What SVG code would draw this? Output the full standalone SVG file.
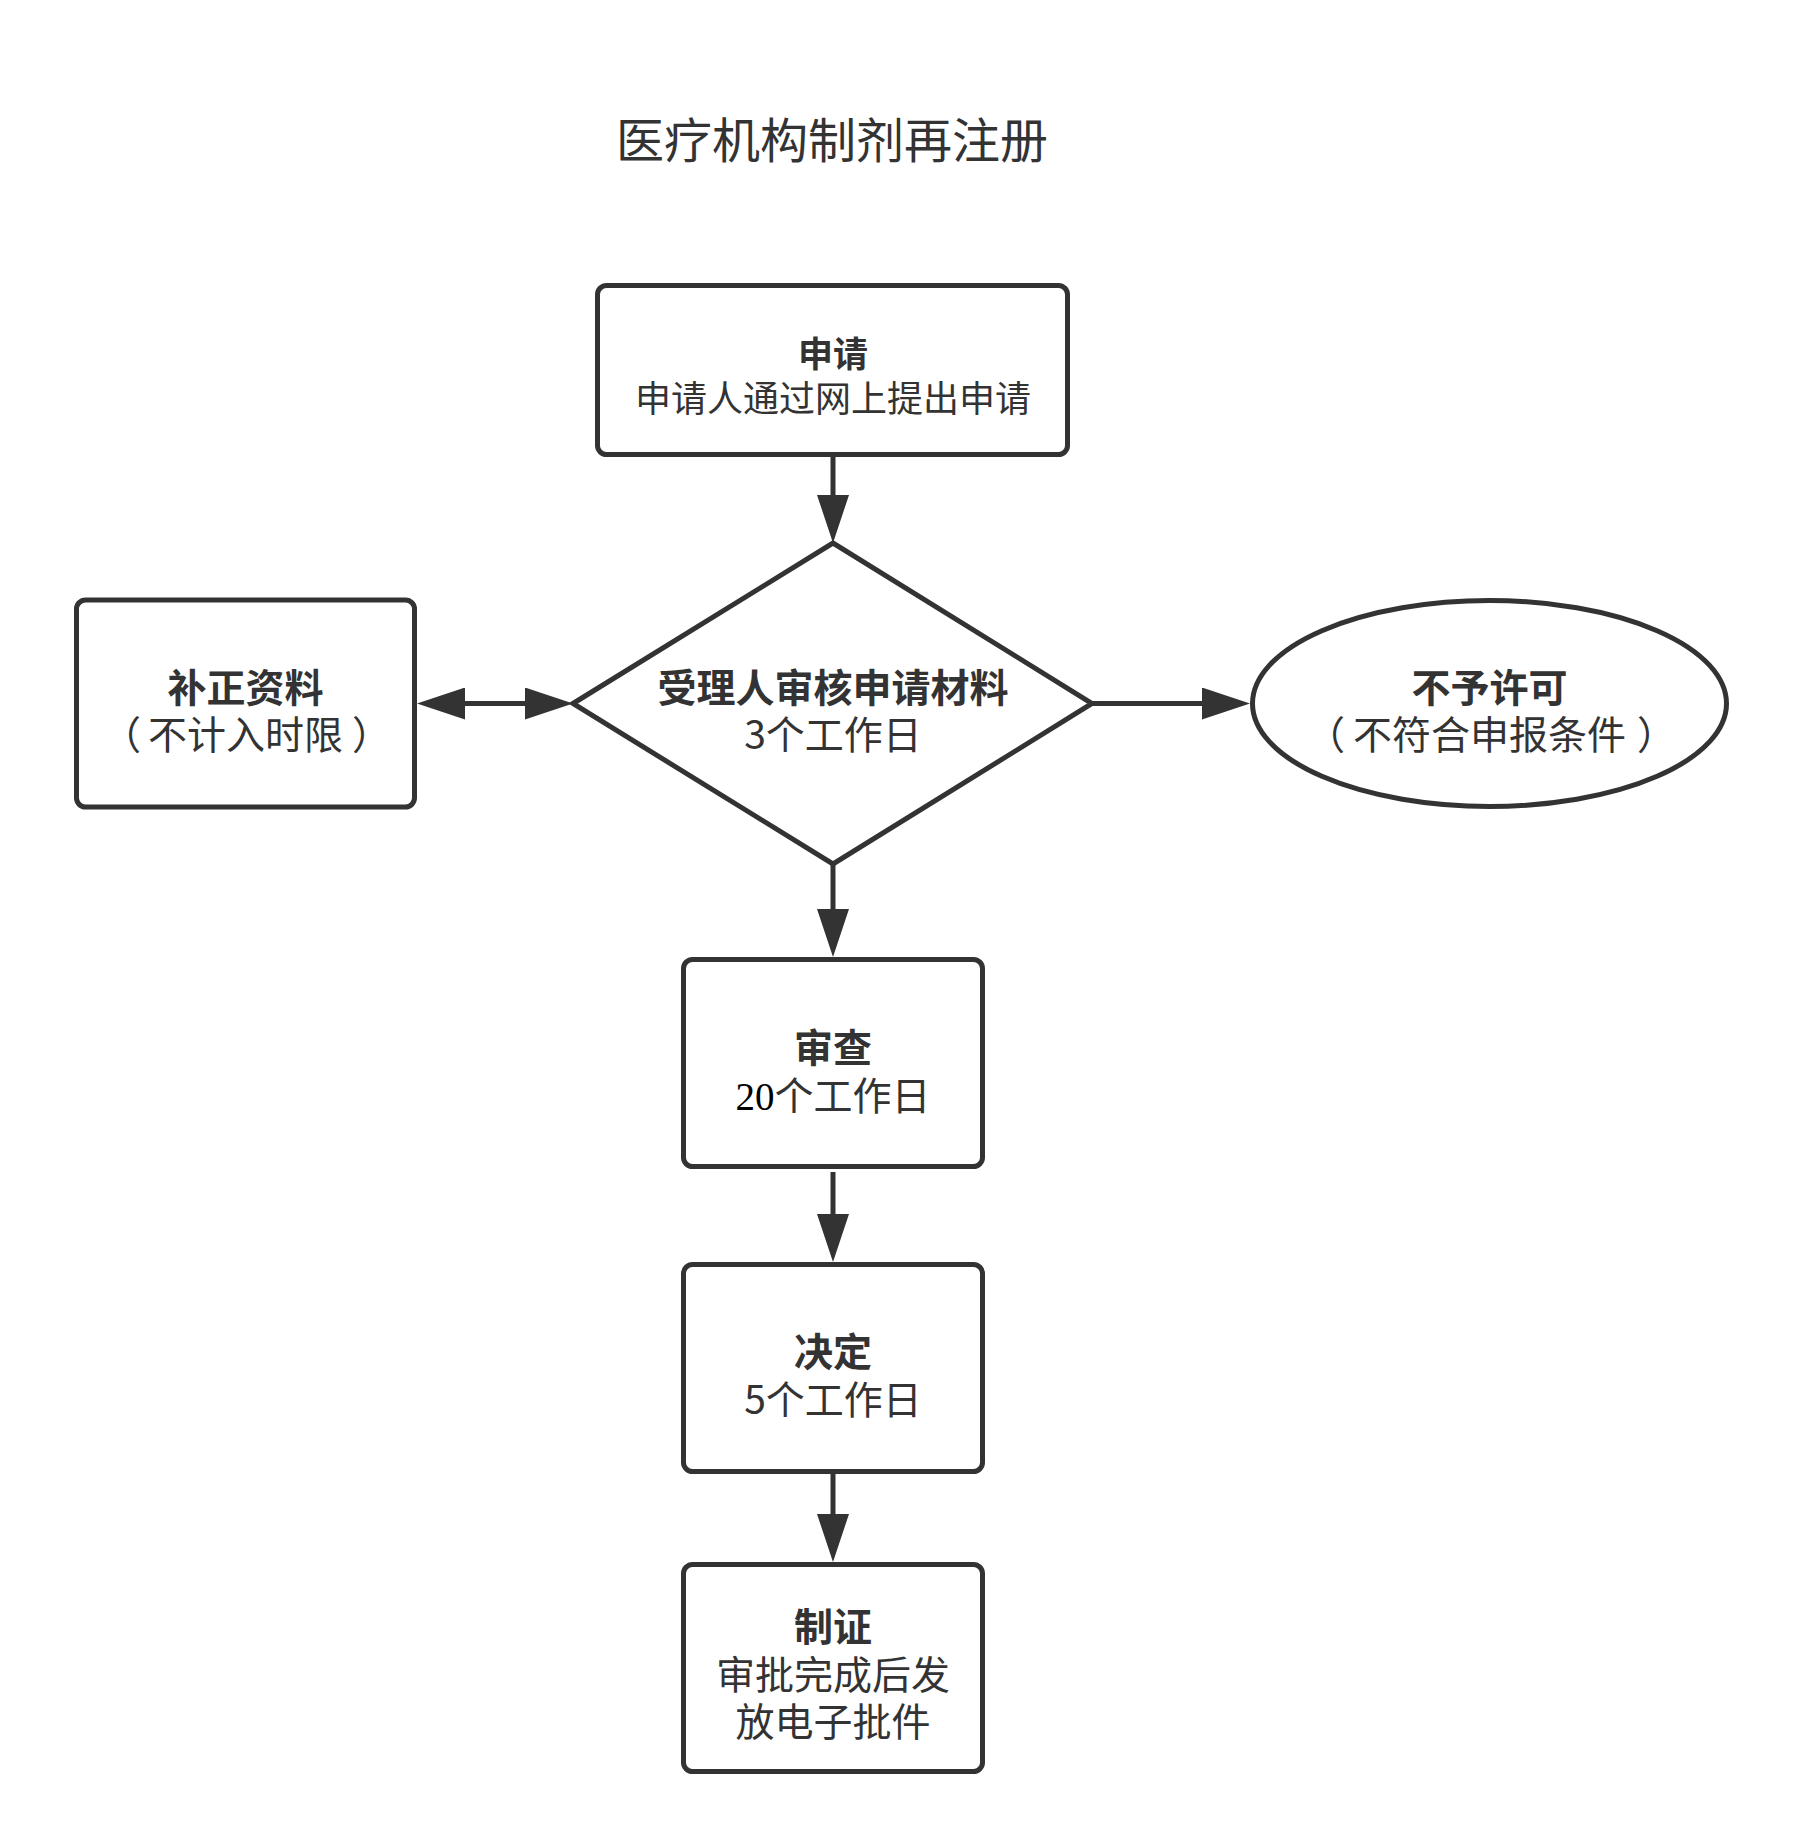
<svg xmlns="http://www.w3.org/2000/svg" width="1803" height="1848" viewBox="0 0 1803 1848">
<style>
.shape{fill:#fff;stroke:#333;stroke-width:5}
.conn{fill:none;stroke:#333;stroke-width:5}
text{font-family:"Noto Sans CJK SC","Microsoft YaHei",sans-serif;fill:#333;text-anchor:middle}
.b{font-weight:bold;font-size:39px}
.r{font-size:39px}
.s{font-size:35px}
.s2{font-size:36px}
.num{font-family:"Liberation Serif",serif;fill:#000}
</style>
<defs>
<marker id="ah" viewBox="0 0 48 32" refX="4" refY="16" markerWidth="48" markerHeight="32" markerUnits="userSpaceOnUse" orient="auto-start-reverse">
<path d="M0,0 L48,16 L0,32 Z" fill="#333"/>
</marker>
</defs>
<rect width="1803" height="1848" fill="#fff"/>
<text x="832" y="158" style="font-size:48px">医疗机构制剂再注册</text>
<g id="connectors">
<path class="conn" d="M833,457 L833,499" marker-end="url(#ah)"/>
<path class="conn" d="M461,703.5 L529,703.5" marker-start="url(#ah)" marker-end="url(#ah)"/>
<path class="conn" d="M1092,703.5 L1206,703.5" marker-end="url(#ah)"/>
<path class="conn" d="M833,864 L833,913" marker-end="url(#ah)"/>
<path class="conn" d="M833,1172 L833,1218" marker-end="url(#ah)"/>
<path class="conn" d="M833,1474 L833,1518" marker-end="url(#ah)"/>
</g>
<g id="node-apply">
<rect class="shape" x="597.5" y="285.5" width="470" height="169" rx="9"/>
<text class="s" x="833" y="367" style="font-weight:bold">申请</text>
<text class="s2" x="833" y="412">申请人通过网上提出申请</text>
</g>
<g id="node-review">
<polygon class="shape" points="573,703.5 833,543 1092,703.5 833,864"/>
<text class="b" x="833" y="702">受理人审核申请材料</text>
<text class="r" x="833" y="749">3个工作日</text>
</g>
<g id="node-supplement">
<rect class="shape" x="76.5" y="600" width="338" height="207" rx="9"/>
<text class="b" x="245.5" y="702">补正资料</text>
<text class="r" y="749"><tspan x="121.4">（</tspan><tspan x="245.5">不计入时限</tspan><tspan x="371.6">）</tspan></text>
</g>
<g id="node-deny">
<ellipse class="shape" cx="1489.5" cy="703.5" rx="237" ry="103"/>
<text class="b" x="1489.5" y="702">不予许可</text>
<text class="r" y="749"><tspan x="1325.4">（</tspan><tspan x="1489.5">不符合申报条件</tspan><tspan x="1656.6">）</tspan></text>
</g>
<g id="node-examine">
<rect class="shape" x="683.5" y="959.5" width="299" height="207" rx="9"/>
<text class="b" x="833" y="1062">审查</text>
<text class="r" x="833" y="1110"><tspan class="num">20</tspan>个工作日</text>
</g>
<g id="node-decide">
<rect class="shape" x="683.5" y="1264.5" width="299" height="207" rx="9"/>
<text class="b" x="833" y="1366">决定</text>
<text class="r" x="833" y="1414">5个工作日</text>
</g>
<g id="node-certify">
<rect class="shape" x="683.5" y="1564.5" width="299" height="207" rx="9"/>
<text class="b" x="833" y="1641">制证</text>
<text class="r" x="833" y="1689">审批完成后发</text>
<text class="r" x="833" y="1736">放电子批件</text>
</g>
</svg>
